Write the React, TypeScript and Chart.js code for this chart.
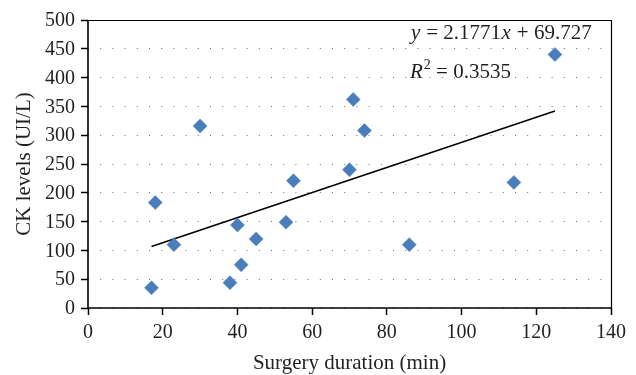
import React, { useEffect, useRef } from 'react';
import { Chart, registerables } from 'chart.js';

Chart.register(...registerables);

const durations = [17, 18, 23, 30, 38, 40, 41, 45, 53, 55, 70, 71, 74, 86, 114, 125];
const ckLevels = [35, 183, 110, 316, 44, 144, 75, 120, 149, 221, 240, 362, 308, 110, 218, 440];
const slope = 2.1771;
const intercept = 69.727;
const rSquared = 0.3535;
const xTicks = [0, 20, 40, 60, 80, 100, 120, 140];
const yTicks = [0, 50, 100, 150, 200, 250, 300, 350, 400, 450, 500];
const xTitle = 'Surgery duration (min)';
const yTitle = 'CK levels (UI/L)';

const FONT = '"Liberation Serif", "Times New Roman", serif';
const TEXT = '#231f20';

export default function App() {
  const ref = useRef<HTMLCanvasElement | null>(null);

  useEffect(() => {
    if (!ref.current) return;
    const xMin = Math.min(...durations);
    const xMax = Math.max(...durations);
    const trend = [
      { x: xMin, y: slope * xMin + intercept },
      { x: xMax, y: slope * xMax + intercept },
    ];

    const framePlugin = {
      id: 'frame',
      afterDraw(chart: any) {
        const { ctx, chartArea } = chart;
        const { left, right, top, bottom } = chartArea;
        ctx.save();
        ctx.strokeStyle = '#000';
        ctx.lineWidth = 1.2;
        ctx.beginPath();
        ctx.moveTo(left, top + 0.5);
        ctx.lineTo(right + 0.5, top + 0.5);
        ctx.lineTo(right + 0.5, bottom);
        ctx.stroke();
        ctx.lineWidth = 1.6;
        ctx.beginPath();
        ctx.moveTo(left, top);
        ctx.lineTo(left, bottom);
        ctx.lineTo(right + 1, bottom);
        ctx.stroke();
        ctx.restore();
      },
    };

    const eqPlugin = {
      id: 'equation',
      afterDatasetsDraw(chart: any) {
        const { ctx, chartArea } = chart;
        const x0 = chartArea.left + 323;
        const y1 = chartArea.top + 19;
        const y2 = chartArea.top + 58;
        const norm = `21px ${FONT}`;
        const ital = `italic 21px ${FONT}`;
        ctx.save();
        ctx.fillStyle = TEXT;
        ctx.textBaseline = 'alphabetic';
        ctx.textAlign = 'left';
        const segs: [string, string][] = [
          ['y', ital],
          [` = ${slope}`, norm],
          ['x', ital],
          [` + ${intercept}`, norm],
        ];
        let x = x0;
        for (const [t, f] of segs) {
          ctx.font = f;
          ctx.fillText(t, x, y1);
          x += ctx.measureText(t).width + 0.6;
        }
        x = x0 - 1;
        ctx.font = ital;
        ctx.fillText('R', x, y2);
        x += ctx.measureText('R').width + 1;
        ctx.font = `14px ${FONT}`;
        ctx.fillText('2', x, y2 - 9);
        x += ctx.measureText('2').width;
        ctx.font = norm;
        ctx.fillText(` = ${rSquared}`, x, y2);
        ctx.restore();
      },
    };

    const chart = new Chart(ref.current, {
      type: 'scatter',
      data: {
        datasets: [
          {
            label: 'CK',
            data: durations.map((d, i) => ({ x: d, y: ckLevels[i] })),
            pointStyle: 'rectRot',
            pointRadius: 7,
            pointBackgroundColor: '#4a7ebb',
            pointBorderColor: '#4a7ebb',
            pointBorderWidth: 0.5,
            order: 1,
          },
          {
            type: 'line',
            label: 'Trend',
            data: trend,
            borderColor: '#000',
            borderWidth: 1.6,
            pointRadius: 0,
            showLine: true,
            fill: false,
            order: 2,
          } as any,
        ],
      },
      plugins: [framePlugin, eqPlugin],
      options: {
        responsive: false,
        animation: false,
        events: [],
        layout: { padding: { top: 20, right: 25, left: 0, bottom: 0 } },
        plugins: { legend: { display: false }, tooltip: { enabled: false } },
        scales: {
          x: {
            type: 'linear',
            min: 0,
            max: 140,
            afterBuildTicks: (s: any) => {
              s.ticks = xTicks.map((v) => ({ value: v }));
            },
            afterFit: (s: any) => {
              s.height = 67;
            },
            ticks: {
              font: { family: FONT, size: 20 },
              color: TEXT,
              padding: 6,
              maxRotation: 0,
              autoSkip: false,
            },
            grid: {
              drawOnChartArea: false,
              drawTicks: true,
              tickLength: 7,
              tickColor: '#000',
              tickWidth: 1.5,
            },
            border: { display: false },
            title: {
              display: true,
              text: xTitle,
              font: { family: FONT, size: 21 },
              color: TEXT,
              padding: { top: 0, bottom: -1 },
            },
          },
          y: {
            type: 'linear',
            min: 0,
            max: 500,
            afterBuildTicks: (s: any) => {
              s.ticks = yTicks.map((v) => ({ value: v }));
            },
            afterFit: (s: any) => {
              s.width = 88;
            },
            ticks: {
              font: { family: FONT, size: 20 },
              color: TEXT,
              padding: 6,
              labelOffset: 1,
              autoSkip: false,
            },
            grid: {
              color: '#6b6b6b',
              lineWidth: 1,
              tickColor: '#000',
              tickWidth: 1.5,
              tickLength: 7,
              tickBorderDash: [],
              borderDash: [1, 11.2],
            } as any,
            border: { display: false, dash: [1, 11.2] },
            title: {
              display: true,
              text: yTitle,
              font: { family: FONT, size: 21 },
              color: TEXT,
              padding: { top: 12, bottom: 12 },
            },
          },
        },
      },
    });
    return () => chart.destroy();
  }, []);

  return (
    <div style={{ position: 'fixed', left: 0, top: 0, width: 636, height: 375, background: '#fff' }}>
      <canvas ref={ref} width={636} height={375} style={{ display: 'block' }} />
    </div>
  );
}
